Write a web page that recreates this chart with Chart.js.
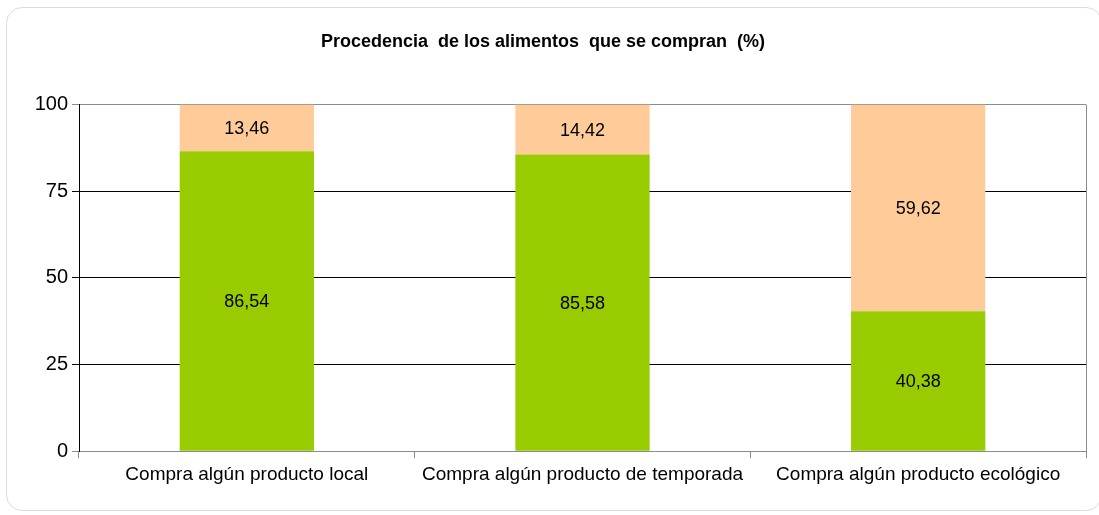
<!DOCTYPE html>
<html>
<head>
<meta charset="utf-8">
<script src="https://cdn.jsdelivr.net/npm/chart.js@4/dist/chart.umd.min.js"></script>
<style>
  html, body { margin: 0; padding: 0; background: #ffffff; }
  #wrap { position: relative; width: 1099px; height: 515px; }
  #frame { position: absolute; left: 6px; top: 7px; width: 1096px; height: 504px;
           border: 1px solid #dcdcdc; border-radius: 16px; box-sizing: border-box; pointer-events: none; }
  canvas { position: absolute; left: 0; top: 0; }
</style>
</head>
<body>
<div id="wrap">
  <div id="frame"></div>
  <canvas id="c" width="1099" height="515"></canvas>
</div>
<script>
const titleText = 'Procedencia  de los alimentos  que se compran  (%)';
const categories = ['Compra algún producto local', 'Compra algún producto de temporada', 'Compra algún producto ecológico'];
const greenValues = [86.54, 85.58, 40.38];
const peachValues = [13.46, 14.42, 59.62];
const yTicks = [0, 25, 50, 75, 100];

const FONT = 'Arial, "Liberation Sans", sans-serif';

const valueLabels = {
  id: 'valueLabels',
  afterDatasetsDraw(chart) {
    const ctx = chart.ctx;
    ctx.save();
    ctx.fillStyle = '#000000';
    ctx.font = '18px ' + FONT;
    ctx.textAlign = 'center';
    ctx.textBaseline = 'middle';
    chart.data.datasets.forEach((ds, di) => {
      const meta = chart.getDatasetMeta(di);
      meta.data.forEach((bar, i) => {
        const p = bar.getProps(['x', 'y', 'base'], true);
        const yc = (p.y + p.base) / 2;
        ctx.fillText(ds.data[i].toFixed(2).replace('.', ','), p.x, yc + 1);
      });
    });
    ctx.restore();
  }
};

const rightBorder = {
  id: 'rightBorder',
  afterDraw(chart) {
    const a = chart.chartArea;
    const ctx = chart.ctx;
    ctx.save();
    ctx.strokeStyle = '#8c8c8c';
    ctx.lineWidth = 1;
    ctx.beginPath();
    ctx.moveTo(Math.round(a.right) + 0.5, a.top);
    ctx.lineTo(Math.round(a.right) + 0.5, a.bottom + 7);
    ctx.stroke();
    ctx.restore();
  }
};

new Chart(document.getElementById('c'), {
  type: 'bar',
  data: {
    labels: categories,
    datasets: [
      { label: 'Local', data: greenValues, backgroundColor: '#99CC00', borderWidth: 0, barPercentage: 0.4, categoryPercentage: 1.0 },
      { label: 'Otro', data: peachValues, backgroundColor: '#FFCC99', borderWidth: 0, barPercentage: 0.4, categoryPercentage: 1.0 }
    ]
  },
  options: {
    responsive: false,
    animation: false,
    devicePixelRatio: 1,
    layout: { padding: { left: 0, right: 13, top: 0, bottom: 24 } },
    plugins: {
      legend: { display: false },
      tooltip: { enabled: false },
      title: {
        display: true,
        text: titleText,
        color: '#000000',
        font: { family: FONT, size: 18, weight: 'bold' },
        padding: { top: 31, bottom: 52 }
      }
    },
    scales: {
      x: {
        stacked: true,
        offset: true,
        grid: { offset: true, drawOnChartArea: false, drawTicks: true, tickLength: 7, color: '#8c8c8c' },
        border: { display: true, color: '#8c8c8c', width: 1 },
        ticks: { color: '#000000', font: { family: FONT, size: 19 }, padding: 5, maxRotation: 0, autoSkip: false }
      },
      y: {
        stacked: true,
        min: 0,
        max: 100,
        afterBuildTicks(scale) { scale.ticks = yTicks.map(v => ({ value: v })); },
        afterFit(scale) { scale.width = 79; },
        grid: {
          color: (c) => (c.tick && (c.tick.value === 100 || c.tick.value === 0)) ? '#8c8c8c' : '#000000',
          tickLength: 7,
          drawTicks: true
        },
        border: { display: true, color: '#000000', width: 1 },
        ticks: { color: '#000000', font: { family: FONT, size: 20 }, padding: 4 }
      }
    }
  },
  plugins: [valueLabels, rightBorder]
});
</script>
</body>
</html>
